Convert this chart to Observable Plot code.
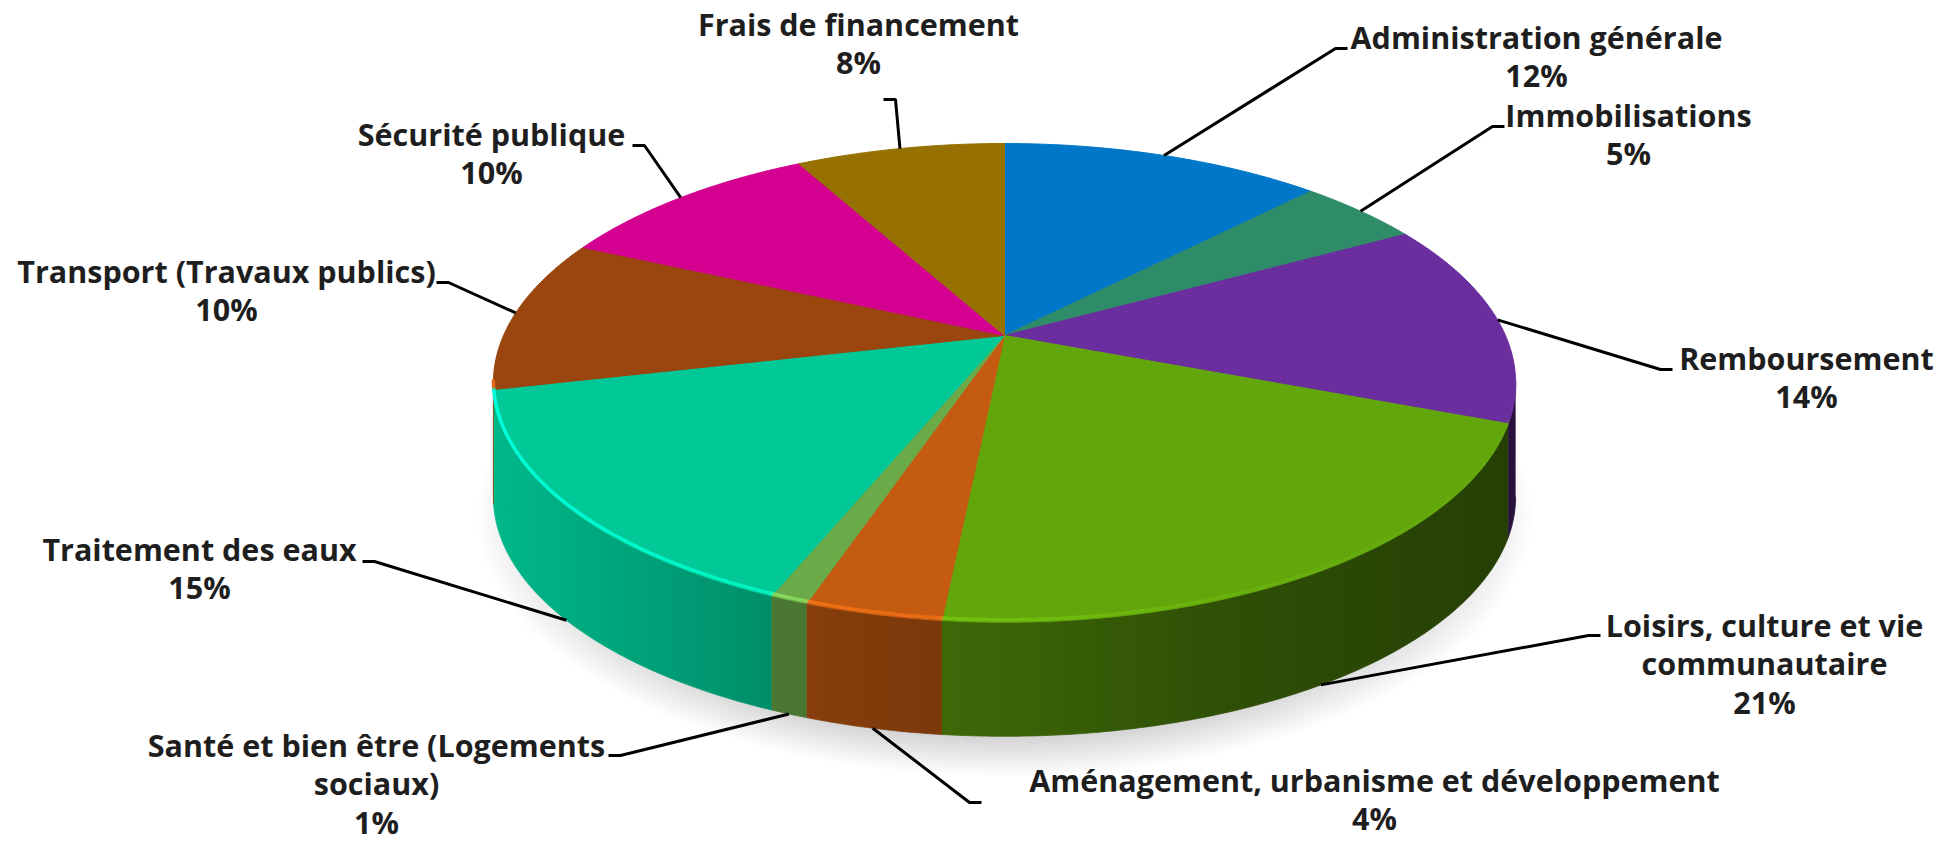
<!DOCTYPE html>
<html><head><meta charset="utf-8">
<script src="https://cdn.jsdelivr.net/npm/d3@7"></script>
<script src="https://cdn.jsdelivr.net/npm/@observablehq/plot@0.6"></script>
<style>
html,body{margin:0;padding:0;background:#fff;}
#chart{width:1944px;height:841px;overflow:hidden;}
</style></head><body><div id="chart"></div>
<script>
// ---- data ----
const categories = [
  "Administration générale",
  "Immobilisations",
  "Remboursement",
  "Loisirs, culture et vie communautaire",
  "Aménagement, urbanisme et développement",
  "Santé et bien être (Logements sociaux)",
  "Traitement des eaux",
  "Transport (Travaux publics)",
  "Sécurité publique",
  "Frais de financement"
];
const shares = [12.3, 4.7, 13.8, 20.8, 3.6, 1.0, 15.2, 10.4, 10.2, 8.0];

// ---- styles ----
const colors = ["#0077c8","#2e8c69","#6b2e9e","#62a60c","#c55a11","#6aaa48","#00c896","#9a460e","#d4008f","#967000"];

// ---- layout (label placement, pixels) ----
const labelLayout = [
  {wrap: 99, cx: 1536, base: 48,  end: [1347, 48]},
  {wrap: 99, cx: 1628, base: 126, end: [1504, 126]},
  {wrap: 99, cx: 1806, base: 369, end: [1672, 369]},
  {wrap: 24, cx: 1764, base: 636, end: [1600, 635]},
  {wrap: 99, cx: 1374, base: 791, end: [981, 802]},
  {wrap: 30, cx: 376,  base: 756, end: [608, 755]},
  {wrap: 99, cx: 199,  base: 560, end: [362, 561]},
  {wrap: 99, cx: 226,  base: 282, end: [436, 282]},
  {wrap: 99, cx: 491,  base: 145, end: [632, 145]},
  {wrap: 99, cx: 858,  base: 35,  end: [883, 99]}
];
const LINE = 38.5;
const pie = {cx: 1004, cy: 335, b: 501, a: 230, p: -0.198, depth: 114};

// ---- geometry ----
const TAU = 2 * Math.PI;
function proj(t, dz = 0) {
  const u = Math.sin(t), v = -Math.cos(t), d = 1 + pie.p * v;
  return {x: pie.cx + pie.b * u / d, y: pie.cy + pie.a * v / d + dz};
}
const tMin = Math.acos(pie.p), tMax = TAU - tMin; // visible wall range
const total = d3.sum(shares);
let acc = 0;
const slices = shares.map((s, i) => {
  const t1 = acc / total * TAU; acc += s; const t2 = acc / total * TAU;
  return {i, t1, t2, tm: (t1 + t2) / 2};
});
function arc(a, b, dz = 0) {
  const n = Math.max(2, Math.ceil((b - a) / (Math.PI / 360)));
  return d3.range(n + 1).map(k => proj(a + (b - a) * k / n, dz));
}

const shadowPts = d3.range(0, 361, 2).map(d => {
  const p = proj(d * Math.PI / 180, pie.depth);
  return {x: pie.cx + (p.x - pie.cx) * 1.035, y: (p.y - 395) * 1.09 + 395 + 10};
});

const marks = [];
marks.push(Plot.line(shadowPts, {x: "x", y: "y", fill: "url(#shadow)", stroke: "none"}));

// walls
slices.forEach(s => {
  const a = Math.max(s.t1, tMin), b = Math.min(s.t2, tMax);
  if (a >= b) return;
  const pts = arc(a, b).concat(arc(a, b, pie.depth).reverse());
  marks.push(Plot.line(pts, {x: "x", y: "y", fill: `url(#side-${s.i})`, stroke: `url(#side-${s.i})`, strokeWidth: 0.8}));
});
// tops
slices.forEach(s => {
  const pts = [{x: pie.cx, y: pie.cy}].concat(arc(s.t1, s.t2), [{x: pie.cx, y: pie.cy}]);
  marks.push(Plot.line(pts, {x: "x", y: "y", fill: colors[s.i], stroke: colors[s.i], strokeWidth: 1}));
});
// rim highlight
slices.forEach(s => {
  const a = Math.max(s.t1, tMin), b = Math.min(s.t2, tMax);
  if (a >= b) return;
  const pts = arc(a, b, -2.5);
  marks.push(Plot.line(pts, {x: "x", y: "y", stroke: `url(#rim-${s.i})`, strokeWidth: 3.5, fill: "none"}));
});

// leaders
const leaderPts = [];
slices.forEach(s => {
  const L = labelLayout[s.i];
  const front = s.tm > tMin && s.tm < tMax;
  const st = proj(s.tm, front ? pie.depth : 0);
  const dir = Math.sign(L.end[0] - L.cx);
  leaderPts.push({k: s.i, x: st.x, y: st.y});
  leaderPts.push({k: s.i, x: L.end[0] + 12 * dir, y: L.end[1]});
  leaderPts.push({k: s.i, x: L.end[0], y: L.end[1]});
});
marks.push(Plot.line(leaderPts, {x: "x", y: "y", z: "k", stroke: "#000", strokeWidth: 3, strokeLinejoin: "miter", strokeLinecap: "butt"}));

// labels
function wrap(str, w) {
  const out = []; let cur = "";
  str.split(" ").forEach(wd => {
    if (cur && (cur + " " + wd).length > w) { out.push(cur); cur = wd; }
    else cur = cur ? cur + " " + wd : wd;
  });
  if (cur) out.push(cur);
  return out;
}
const textRows = [];
categories.forEach((c, i) => {
  const L = labelLayout[i];
  const lines = wrap(c, L.wrap).concat([Math.round(shares[i]) + "%"]);
  lines.forEach((t, j) => textRows.push({text: t, x: L.cx, y: L.base + j * LINE}));
});
marks.push(Plot.text(textRows, {x: "x", y: "y", text: "text", lineAnchor: "bottom", textAnchor: "middle",
  fontSize: 30.5, fontWeight: "bold", fontFamily: "'Open Sans', sans-serif", fill: "#1e1e1e"}));

const svg = Plot.plot({
  width: 1944, height: 841, margin: 0,
  x: {domain: [0, 1944], range: [0, 1944], axis: null},
  y: {domain: [0, 841], range: [0, 841], axis: null},
  style: {background: "#fff", overflow: "visible"},
  marks
});

// gradients
const x0 = pie.cx - pie.b * 1.02, x1 = pie.cx + pie.b * 1.02;
const shade = [[0, 0.92], [0.28, 0.70], [0.4, 0.64], [0.5, 0.60], [0.7, 0.48], [1, 0.38]];
const defs = d3.create("svg:defs");
colors.forEach((c, i) => {
  const col = d3.rgb(c);
  const g = defs.append("linearGradient").attr("id", `side-${i}`).attr("gradientUnits", "userSpaceOnUse")
    .attr("x1", x0).attr("x2", x1).attr("y1", 0).attr("y2", 0);
  shade.forEach(([o, k]) => g.append("stop").attr("offset", o).attr("stop-color", d3.rgb(col.r * k, col.g * k, col.b * k).formatHex()));
  const r = defs.append("linearGradient").attr("id", `rim-${i}`).attr("gradientUnits", "userSpaceOnUse")
    .attr("x1", x0).attr("x2", x1).attr("y1", 0).attr("y2", 0);
  r.append("stop").attr("offset", 0).attr("stop-color", d3.rgb(col).brighter(1.1).formatHex()).attr("stop-opacity", 0.95);
  r.append("stop").attr("offset", 0.45).attr("stop-color", d3.rgb(col).brighter(0.7).formatHex()).attr("stop-opacity", 0.6);
  r.append("stop").attr("offset", 1).attr("stop-color", d3.rgb(col).brighter(0.2).formatHex()).attr("stop-opacity", 0.15);
});
const sg = defs.append("radialGradient").attr("id", "shadow");
sg.append("stop").attr("offset", 0.82).attr("stop-color", "#000").attr("stop-opacity", 0.2);
sg.append("stop").attr("offset", 1).attr("stop-color", "#000").attr("stop-opacity", 0);
svg.insertBefore(defs.node(), svg.firstChild);

document.getElementById("chart").appendChild(svg);
</script>
</body></html>
